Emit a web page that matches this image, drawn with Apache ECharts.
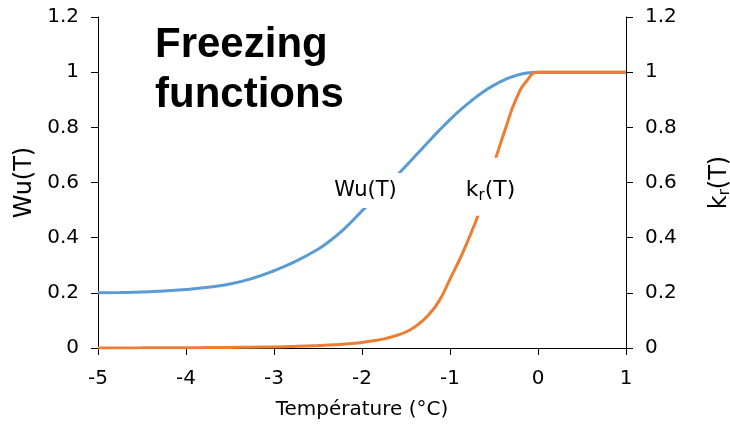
<!DOCTYPE html>
<html>
<head>
<meta charset="utf-8">
<script src="https://cdn.jsdelivr.net/npm/echarts@6/dist/echarts.min.js"></script>
<style>
html,body{margin:0;padding:0;background:#fff;}
#chart{width:730px;height:428px;}
</style>
</head>
<body>
<div id="chart"></div>
<script>
// Temperature (°C)
var temps = [-5, -4.75, -4.5, -4.25, -4, -3.75, -3.5, -3.25, -3, -2.75, -2.5, -2.375, -2.25, -2.125, -2, -1.875, -1.75, -1.625, -1.5, -1.375, -1.25, -1.125, -1, -0.875, -0.75, -0.625, -0.5, -0.375, -0.25, -0.125, 0, 0.125, 0.25, 0.5, 0.75, 1];
// Wu(T) unfrozen water content
var wuValues = [0.200, 0.201, 0.203, 0.207, 0.212, 0.220, 0.232, 0.252, 0.280, 0.315, 0.358, 0.386, 0.418, 0.456, 0.497, 0.537, 0.577, 0.618, 0.660, 0.703, 0.746, 0.788, 0.828, 0.865, 0.898, 0.928, 0.953, 0.973, 0.988, 0.997, 1, 1, 1, 1, 1, 1];
// kr(T) relative permeability
var krValues = [0, 0.0003, 0.0005, 0.0008, 0.001, 0.0015, 0.002, 0.003, 0.004, 0.006, 0.009, 0.011, 0.013, 0.016, 0.020, 0.026, 0.033, 0.044, 0.058, 0.082, 0.118, 0.170, 0.250, 0.332, 0.425, 0.532, 0.668, 0.790, 0.902, 0.970, 1, 1, 1, 1, 1, 1];
var xTicks = [-5, -4, -3, -2, -1, 0, 1];
var yTicks = [0, 0.2, 0.4, 0.6, 0.8, 1, 1.2];
var titleText = 'Freezing\nfunctions';
var wuLabelAt = [-1.96, 0.571];
var krLabelAt = [-0.54, 0.585];

var FONT = 'DejaVu Sans';
function pairs(xs, ys){ return xs.map(function(x,i){ return [x, ys[i]]; }); }
function fmt(v){ return String(Math.round(v*10)/10); }

var yAxisCommon = {
  type: 'value', min: yTicks[0], max: yTicks[yTicks.length-1], interval: 0.2,
  axisLine: {show: true, onZero: false, lineStyle: {color: '#000', width: 1}},
  axisTick: {show: true, length: 7, lineStyle: {color: '#000'}},
  splitLine: {show: false},
  axisLabel: {color: '#000', fontSize: 20, fontFamily: FONT, margin: 19, formatter: fmt},
  nameLocation: 'middle', nameRotate: 90
};

var chart = echarts.init(document.getElementById('chart'), null, {renderer: 'canvas'});
chart.setOption({
  animation: false,
  backgroundColor: '#fff',
  title: {
    text: titleText, left: 150, top: 15,
    textStyle: {fontFamily: 'Liberation Sans', fontWeight: 'bold', fontSize: 42, lineHeight: 50, color: '#000'}
  },
  grid: {left: 98, right: 104, top: 17, bottom: 80, containLabel: false, outerBoundsMode: 'none'},
  xAxis: {
    type: 'value', min: xTicks[0], max: xTicks[xTicks.length-1], interval: 1,
    axisLine: {show: true, onZero: false, lineStyle: {color: '#000', width: 1}},
    axisTick: {show: true, length: 7, lineStyle: {color: '#000'}},
    splitLine: {show: false},
    axisLabel: {color: '#000', fontSize: 20, fontFamily: FONT, margin: 21},
    name: 'Température (°C)', nameLocation: 'middle', nameGap: 52,
    nameTextStyle: {color: '#000', fontSize: 20, fontFamily: FONT}
  },
  yAxis: [
    Object.assign({}, yAxisCommon, {
      position: 'left', name: 'Wu(T)', nameGap: 60,
      nameTextStyle: {color: '#000', fontSize: 24, fontFamily: FONT}
    }),
    Object.assign({}, yAxisCommon, {
      position: 'right', name: '{a|k}{s|r}{a|(T)}', nameGap: 80,
      nameTextStyle: {color: '#000', fontSize: 24, fontFamily: FONT,
        rich: {a: {fontSize: 24, fontFamily: FONT, color: '#000'}, s: {fontSize: 15, fontFamily: FONT, color: '#000', verticalAlign: 'bottom', padding: [12,0,0,0]}}}
    })
  ],
  series: [
    {
      type: 'line', name: 'Wu(T)', yAxisIndex: 0, data: pairs(temps, wuValues),
      smooth: 0.5, showSymbol: false,
      lineStyle: {color: '#5B9BD5', width: 3}, itemStyle: {color: '#5B9BD5'},
      markPoint: {
        symbol: 'rect', symbolSize: [74, 35], itemStyle: {color: '#fff'},
        label: {show: true, position: 'inside', color: '#000', fontSize: 21, fontFamily: FONT, formatter: 'Wu(T)'},
        data: [{coord: wuLabelAt}]
      }
    },
    {
      type: 'line', name: 'kr(T)', yAxisIndex: 1, data: pairs(temps, krValues),
      smooth: 0.5, showSymbol: false,
      lineStyle: {color: '#ED7D31', width: 3}, itemStyle: {color: '#ED7D31'},
      markPoint: {
        symbol: 'rect', symbolSize: [64, 58], itemStyle: {color: '#fff'},
        label: {show: true, position: 'inside', offset: [0, 4], color: '#000', fontSize: 22, fontFamily: FONT,
          formatter: '{a|k}{s|r}{a|(T)}',
          rich: {a: {fontSize: 22, fontFamily: FONT, color: '#000'}, s: {fontSize: 15, fontFamily: FONT, color: '#000', verticalAlign: 'bottom', padding: [11,0,0,0]}}},
        data: [{coord: krLabelAt}]
      }
    }
  ]
});
</script>
</body>
</html>
